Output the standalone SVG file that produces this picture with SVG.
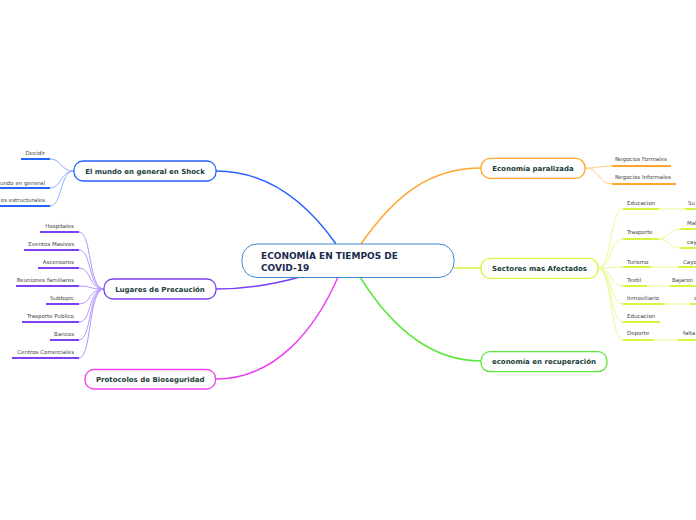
<svg xmlns="http://www.w3.org/2000/svg" width="696" height="520" viewBox="0 0 696 520">
<style>
.main{fill:none;stroke-width:1.5}
.sub{fill:none;stroke-width:1}
.ul{fill:none;stroke-width:2}
.node{fill:#ffffff;stroke-width:1.3}
.nt{font-family:"DejaVu Sans",Verdana,sans-serif;font-size:7px;font-weight:bold;fill:#1a3d38;text-anchor:middle}
.st{font-family:"DejaVu Sans",Verdana,sans-serif;font-size:5.5px;fill:#444444}
.end{text-anchor:end}
.ct{font-family:"DejaVu Sans",Verdana,sans-serif;font-size:9px;font-weight:bold;fill:#1b2a4e}
</style>
<rect width="696" height="520" fill="#ffffff"/>
<g id="connectors">
  <path class="main" stroke="#2563ff" d="M216,171 C265,171 305,200 336,244"/>
  <path class="main" stroke="#ffa62b" d="M361,244 C395,195 430,168 481,168"/>
  <path class="main" stroke="#7c3ff2" d="M216,289 C250,289 275,284 300,277"/>
  <path class="main" stroke="#ee40ee" d="M216,379 C275,379 315,330 338,277"/>
  <path class="main" stroke="#5ee83c" d="M360,277 C390,325 430,361 481,361"/>
  <path class="main" stroke="#d6f63f" d="M454,268 L481,268"/>
  <!-- El mundo children -->
  <g stroke="#93adff" class="sub">
    <path d="M74,171 C60,171 62,159 50,159"/>
    <path d="M74,171 C60,171 62,188 50,188"/>
    <path d="M74,171 C60,171 62,206 50,206"/>
  </g>
  <g stroke="#2563ff" class="ul">
    <path d="M21,159 L50,159"/>
    <path d="M0,188 L50,188"/>
    <path d="M0,206 L50,206"/>
  </g>
  <!-- Lugares children -->
  <g stroke="#b496fa" class="sub">
    <path d="M104,289 C88,289 92,232 79,232"/>
    <path d="M104,289 C88,289 92,250 79,250"/>
    <path d="M104,289 C88,289 92,268 79,268"/>
    <path d="M104,289 C88,289 92,286 79,286"/>
    <path d="M104,289 C88,289 92,304 79,304"/>
    <path d="M104,289 C88,289 92,322 79,322"/>
    <path d="M104,289 C88,289 92,340 79,340"/>
    <path d="M104,289 C88,289 92,358 79,358"/>
  </g>
  <g stroke="#7c3ff2" class="ul">
    <path d="M40,232 L79,232"/>
    <path d="M24,250 L79,250"/>
    <path d="M38,268 L79,268"/>
    <path d="M16,286 L79,286"/>
    <path d="M46,304 L79,304"/>
    <path d="M22,322 L79,322"/>
    <path d="M50,340 L79,340"/>
    <path d="M12,358 L79,358"/>
  </g>
  <!-- Economía paralizada children -->
  <g stroke="#ffd083" class="sub">
    <path d="M585,168 C600,168 598,166 612,166"/>
    <path d="M585,168 C600,168 598,184 612,184"/>
  </g>
  <g stroke="#ffa62b" class="ul">
    <path d="M612,166 L671,166"/>
    <path d="M612,184 L676,184"/>
  </g>
  <!-- Sectores children -->
  <g stroke="#e8fb94" class="sub">
    <path d="M598,268 C612,268 610,209 623,209"/>
    <path d="M598,268 C612,268 610,239 623,239"/>
    <path d="M598,268 C612,268 610,267 623,267"/>
    <path d="M598,268 C612,268 610,286 623,286"/>
    <path d="M598,268 C612,268 610,304 623,304"/>
    <path d="M598,268 C612,268 610,322 623,322"/>
    <path d="M598,268 C612,268 610,340 623,340"/>
    <path d="M659,209 L685,209"/>
    <path d="M658,239 C670,239 668,229 680,229"/>
    <path d="M658,239 C670,239 668,248 680,248"/>
    <path d="M651,267 L678,267"/>
    <path d="M647,286 L670,286"/>
    <path d="M665,304 L690,304"/>
    <path d="M654,340 L678,340"/>
  </g>
  <g stroke="#d6f63f" class="ul">
    <path d="M623,209 L659,209"/>
    <path d="M623,239 L658,239"/>
    <path d="M623,267 L651,267"/>
    <path d="M623,286 L647,286"/>
    <path d="M623,304 L665,304"/>
    <path d="M623,322 L660,322"/>
    <path d="M623,340 L654,340"/>
    <path d="M685,209 L696,209"/>
    <path d="M680,229 L696,229"/>
    <path d="M680,248 L696,248"/>
    <path d="M678,267 L696,267"/>
    <path d="M670,286 L696,286"/>
    <path d="M690,304 L696,304"/>
    <path d="M678,340 L696,340"/>
  </g>
</g>
<g id="center">
  <rect x="242" y="244" width="212" height="33.5" rx="15" fill="#ffffff" stroke="#3a8dd3" stroke-width="1"/>
  <text class="ct" x="261" y="259">ECONOMÍA EN TIEMPOS DE</text>
  <text class="ct" x="261" y="270.5">COVID-19</text>
</g>
<g id="n-shock">
  <rect class="node" x="74" y="161" width="142" height="20" rx="9" stroke="#2563ff"/>
  <text class="nt" x="145" y="173.5">El mundo en general en Shock</text>
</g>
<g id="n-lugares">
  <rect class="node" x="104" y="279" width="112" height="20" rx="9" stroke="#7c3ff2"/>
  <text class="nt" x="160" y="291.5">Lugares de Precaución</text>
</g>
<g id="n-protocolos">
  <rect class="node" x="85" y="369.5" width="130.5" height="19.5" rx="9" stroke="#ee40ee"/>
  <text class="nt" x="150.2" y="381.8">Protocolos de Bioseguridad</text>
</g>
<g id="n-paralizada">
  <rect class="node" x="481" y="158.3" width="104" height="20" rx="9" stroke="#ffa62b"/>
  <text class="nt" x="533" y="170.8">Economía paralizada</text>
</g>
<g id="n-sectores">
  <rect class="node" x="481" y="258.3" width="117" height="20" rx="9" stroke="#d6f63f"/>
  <text class="nt" x="539.5" y="270.8">Sectores mas Afectados</text>
</g>
<g id="n-recuperacion">
  <rect class="node" x="481" y="351.7" width="126" height="20" rx="9" stroke="#5ee83c"/>
  <text class="nt" x="544" y="364.2">economía en recuperación</text>
</g>
<g id="t-shock-children">
  <text class="st end" x="45" y="155">Decidir</text>
  <text class="st end" x="45" y="184.5">undo en general</text>
  <text class="st end" x="45" y="202">os estructurales</text>
</g>
<g id="t-lugares-children">
  <text class="st end" x="74" y="228">Hospitales</text>
  <text class="st end" x="74" y="246">Eventos Masivos</text>
  <text class="st end" x="74" y="264">Ascensores</text>
  <text class="st end" x="74" y="282">Reuniones familiares</text>
  <text class="st end" x="74" y="300">Subtopic</text>
  <text class="st end" x="74" y="318">Trasporte Publico</text>
  <text class="st end" x="74" y="336">Bancos</text>
  <text class="st end" x="74" y="354">Centros Comerciales</text>
</g>
<g id="t-paralizada-children">
  <text class="st" x="615" y="161">Negocios Formales</text>
  <text class="st" x="615" y="179">Negocios Informales</text>
</g>
<g id="t-sectores-children">
  <text class="st" x="627" y="205">Educacion</text>
  <text class="st" x="627" y="233.5">Trasporte</text>
  <text class="st" x="627" y="263.5">Turismo</text>
  <text class="st" x="627" y="281.5">Textil</text>
  <text class="st" x="627" y="299.5">Inmoviliario</text>
  <text class="st" x="627" y="317.5">Educacion</text>
  <text class="st" x="627" y="335">Deporte</text>
  <text class="st" x="688" y="205">Su</text>
  <text class="st" x="687" y="224.5">Mal</text>
  <text class="st" x="687" y="243.5">cay</text>
  <text class="st" x="683" y="263.5">Cayo</text>
  <text class="st" x="672" y="281.5">Bajaron</text>
  <text class="st" x="694" y="299.5">c</text>
  <text class="st" x="683" y="335">falta</text>
</g>
</svg>
